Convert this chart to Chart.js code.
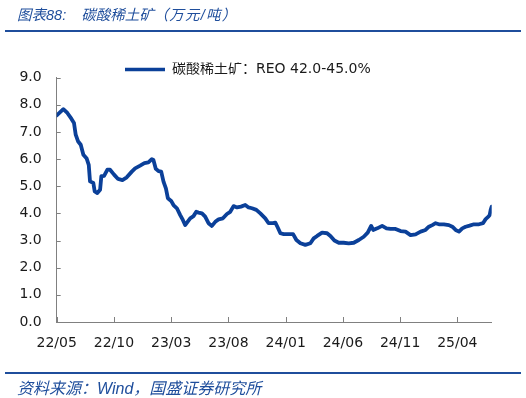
<!DOCTYPE html>
<html>
<head>
<meta charset="utf-8">
<script src="https://cdn.jsdelivr.net/npm/chart.js@4.4.1/dist/chart.umd.min.js"></script>
<style>
  html, body { margin: 0; padding: 0; background: #ffffff; }
  #wrap { position: relative; width: 526px; height: 398px; overflow: hidden; }
  #c { position: absolute; left: 0; top: 0; }
  .txt { position: absolute; white-space: nowrap; font-style: italic; color: #1f4e9c;
         font-family: "Liberation Sans", "Noto Sans CJK SC", sans-serif; }
  .rule { position: absolute; left: 5px; width: 516px; height: 2px; background: #1f4e9c; }
</style>
</head>
<body>
<div id="wrap">
  <canvas id="c" width="526" height="398"></canvas>
  <div class="txt" id="title" style="left:17px; top:3px; font-size:14.5px;">图表88:<span style="margin-left:15px;">碳酸稀土矿</span><span style="letter-spacing:1.2px;">（万元/吨）</span></div>
  <div class="rule" style="top:30px;"></div>
  <div class="rule" style="top:372px;"></div>
  <div class="txt" id="source" style="left:17px; top:375px; font-size:16px;">资料来源：Wind，国盛证券研究所</div>
</div>
<script>
// ---- data (months since 2022/05, price in 万元/吨) ----
const seriesName = '碳酸稀土矿：REO 42.0-45.0%';
const months = [0,0.58,0.93,1.28,1.51,1.66,1.86,2.10,2.33,2.62,2.80,2.91,3.20,3.32,3.55,3.79,3.90,4.14,4.43,4.66,
  5.01,5.36,5.74,6.12,6.56,6.85,7.29,7.66,8.01,8.31,8.45,8.66,8.89,9.13,9.33,9.54,9.71,10.00,10.20,10.50,
  10.79,11.02,11.22,11.43,11.66,11.95,12.19,12.39,12.69,12.97,13.26,13.56,13.85,14.14,14.52,14.87,15.16,15.45,15.75,16.10,
  16.47,16.76,17.06,17.44,17.79,18.22,18.51,18.90,19.10,19.30,19.54,19.83,20.26,20.65,20.94,21.29,21.72,22.16,22.45,22.75,
  23.18,23.62,23.91,24.26,24.64,25.07,25.51,25.95,26.39,26.82,27.17,27.47,27.65,28.00,28.43,28.81,29.16,29.60,30.04,30.47,
  30.91,31.35,31.79,32.22,32.51,32.81,33.10,33.39,33.82,34.26,34.56,34.85,35.14,35.43,35.72,36.07,36.45,36.89,37.24,37.47,
  37.71,37.82,37.91,38.00];
const prices = [7.61,7.84,7.70,7.49,7.33,6.90,6.66,6.53,6.16,6.02,5.79,5.18,5.12,4.81,4.75,4.87,5.37,5.38,5.61,5.61,
  5.43,5.27,5.23,5.33,5.54,5.66,5.76,5.85,5.88,6.00,5.97,5.64,5.56,5.54,5.17,4.92,4.56,4.46,4.31,4.19,
  3.94,3.76,3.57,3.69,3.82,3.90,4.06,4.03,4.00,3.88,3.64,3.54,3.69,3.78,3.82,3.98,4.06,4.27,4.22,4.25,
  4.31,4.22,4.19,4.13,4.00,3.82,3.64,3.64,3.66,3.49,3.27,3.24,3.24,3.24,3.02,2.90,2.84,2.90,3.08,3.17,
  3.29,3.27,3.17,3.00,2.92,2.92,2.90,2.92,3.02,3.14,3.29,3.54,3.39,3.45,3.54,3.45,3.43,3.43,3.35,3.33,
  3.20,3.23,3.33,3.39,3.51,3.57,3.64,3.60,3.60,3.57,3.51,3.39,3.33,3.45,3.51,3.55,3.60,3.60,3.64,3.79,
  3.88,3.94,4.13,4.25];
const tickMonths = [0,5,10,15,20,25,30,35];
const tickLabels = ['22/05','22/10','23/03','23/08','24/01','24/06','24/11','25/04'];
const yMin = 0, yMax = 9, yStep = 1;

const FONT = '"DejaVu Sans", "Noto Sans CJK SC", sans-serif';
const AXIS_COLOR = '#808080';
const LINE_COLOR = '#0b4099';

const innerTicks = {
  id: 'innerTicks',
  afterDraw(chart) {
    const {ctx, chartArea: a, scales: {x, y}} = chart;
    ctx.save();
    ctx.strokeStyle = AXIS_COLOR;
    ctx.lineWidth = 1;
    ctx.beginPath();
    y.ticks.forEach(t => {
      const py = Math.round(y.getPixelForValue(t.value)) + 0.5;
      ctx.moveTo(a.left, py); ctx.lineTo(a.left + 4, py);
    });
    x.ticks.forEach(t => {
      const px = Math.round(x.getPixelForValue(t.value)) + 0.5;
      ctx.moveTo(px, a.bottom); ctx.lineTo(px, a.bottom - 5);
    });
    ctx.stroke();
    ctx.restore();
  }
};

const legendPlace = {
  id: 'legendPlace',
  afterLayout(chart) {
    const l = chart.legend;
    if (!l) return;
    const w = l.width, h = l.height;
    l.left = 125; l.right = 125 + w;
    l.top = 62.5; l.bottom = 62.5 + h;
  }
};

new Chart(document.getElementById('c'), {
  type: 'line',
  data: {
    datasets: [{
      label: seriesName,
      data: months.map((m, i) => ({x: m, y: prices[i]})),
      borderColor: LINE_COLOR,
      backgroundColor: LINE_COLOR,
      borderWidth: 3.8,
      pointRadius: 0,
      tension: 0,
      borderJoinStyle: 'round',
      borderCapStyle: 'round',
      fill: false
    }]
  },
  options: {
    responsive: false,
    animation: false,
    events: [],
    layout: { padding: { left: 0, right: 34.3, top: 77.7, bottom: 36 } },
    plugins: {
      legend: {
        position: 'chartArea',
        align: 'start',
        labels: {
          boxWidth: 40, boxHeight: 3.5, padding: 0, textAlign: 'left',
          color: '#1a1a1a', font: { size: 14, family: FONT },
          generateLabels(chart) {
            const items = Chart.defaults.plugins.legend.labels.generateLabels(chart);
            items.forEach(it => { it.lineWidth = 0; it.strokeStyle = 'rgba(0,0,0,0)'; it.fillStyle = LINE_COLOR; });
            return items;
          }
        }
      },
      tooltip: { enabled: false }
    },
    scales: {
      x: {
        type: 'linear', min: 0, max: 38,
        afterBuildTicks(s) { s.ticks = tickMonths.map(v => ({value: v})); },
        afterFit(s) { s.height = 40; },
        grid: { display: false, drawTicks: false },
        border: { display: true, color: AXIS_COLOR, width: 1 },
        ticks: {
          autoSkip: false, maxRotation: 0, padding: 13,
          color: '#1a1a1a', font: { size: 14, family: FONT },
          callback: (v) => tickLabels[tickMonths.indexOf(v)]
        }
      },
      y: {
        min: yMin, max: yMax,
        afterFit(s) { s.width = 56.7; },
        grid: { display: false, drawTicks: false },
        border: { display: true, color: AXIS_COLOR, width: 1 },
        ticks: {
          stepSize: yStep, padding: 15,
          color: '#1a1a1a', font: { size: 14, family: FONT },
          callback: (v) => Number(v).toFixed(1)
        }
      }
    }
  },
  plugins: [innerTicks, legendPlace]
});
</script>
</body>
</html>
